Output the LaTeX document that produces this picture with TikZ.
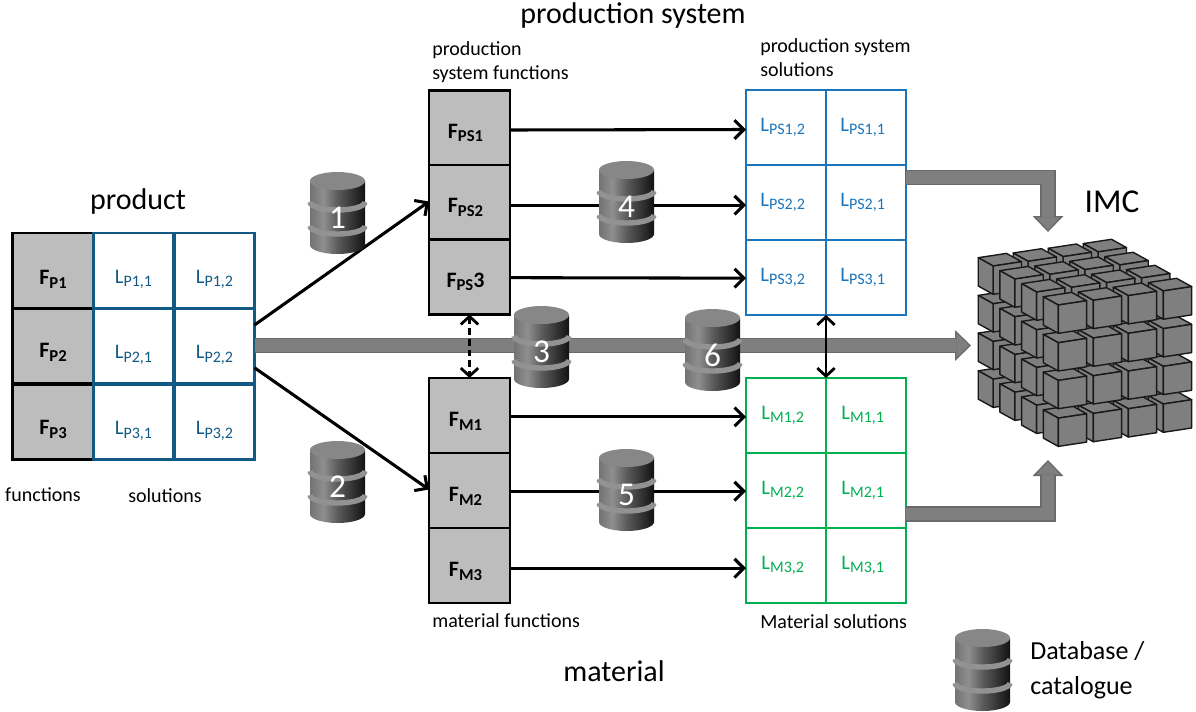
\documentclass[tikz,border=0pt]{standalone}
\usepackage{fontspec}
\setmainfont{Carlito}
\usetikzlibrary{arrows.meta,calc}
\definecolor{prodblue}{HTML}{125A85}
\definecolor{psblue}{HTML}{1B75BC}
\definecolor{matgreen}{HTML}{00B050}
\definecolor{cellgray}{HTML}{BDBDBD}
\definecolor{bandgray}{HTML}{929292}
\definecolor{flowgray}{HTML}{7F7F7F}
\definecolor{flowedge}{HTML}{6A6A6A}
\pgfdeclarehorizontalshading{dbshade}{100bp}{rgb(0bp)=(.45,.45,.45);rgb(25bp)=(.45,.45,.45);rgb(37bp)=(.56,.56,.56);rgb(50bp)=(.36,.36,.36);rgb(75bp)=(.07,.07,.07);rgb(100bp)=(.07,.07,.07)}
\newcommand{\fsub}[1]{{\fontsize{12.5}{12}\selectfont\raisebox{-2.8pt}{#1}}}
\newcommand{\lsub}[1]{{\fontsize{12}{12}\selectfont\raisebox{-2.8pt}{#1}}}
\newcommand{\dbcyl}[4]{%
\begin{scope}[shift={(#2,#3)}]
\path[shading=dbshade] (-27.5,9) -- (-27.5,73) arc[start angle=180,end angle=360,x radius=20.625pt,y radius=6.75pt] -- (27.5,9) -- cycle;
\fill[bandgray!110!white] (0,9) ellipse [x radius=20.625pt,y radius=6.75pt];
\draw[bandgray,line width=4pt] (-27.5,30) arc[start angle=180,end angle=360,x radius=20.625pt,y radius=6pt];
\draw[bandgray,line width=4pt] (-27.5,54) arc[start angle=180,end angle=360,x radius=20.625pt,y radius=6pt];
\node[dbnum] (#1) at (0,46) {#4};
\end{scope}}
\tikzset{
  x=0.75pt,y=-0.75pt,
  fcell/.style={draw=black,fill=cellgray,line width=1.9pt,minimum width=60.75pt,minimum height=56.25pt,inner sep=0pt,outer sep=0pt,text height=#1,text depth=0pt,font=\fontsize{16.5}{18}\selectfont\bfseries},
  lcell/.style={draw=#1,fill=white,text=#1,line width=1.9pt,minimum width=60pt,minimum height=56.25pt,inner sep=0pt,outer sep=0pt,font=\fontsize{15.5}{18}\selectfont},
  lowtext/.style={text height=19pt,text depth=0pt},
  dbnum/.style={text=white,inner sep=0pt,font=\fontsize{25}{28}\selectfont},
  label/.style={inner sep=0pt,anchor=west,align=left,font=\fontsize{15}{18}\selectfont},
  title/.style={inner sep=0pt,font=\fontsize{22.5}{24}\selectfont},
  flow/.style={draw=black,line width=2.3pt,-{Straight Barb[length=7pt,width=14pt,line width=2.3pt]}},
  twoway/.style={draw=black,line width=2.1pt,{Straight Barb[length=6pt,width=13pt,line width=2.1pt]}-{Straight Barb[length=6pt,width=13pt,line width=2.1pt]}},
  bigflow/.style={draw=flowedge,line width=11.5pt,-{Triangle[length=12pt,width=23pt,fill=flowgray,line width=1pt]}},
  bigcore/.style={draw=flowgray,line width=9.5pt,shorten >=11pt},
  cubeface/.style={fill=flowgray,draw=black!90,line width=1.05pt,line join=round},
}
\begin{document}
\begin{tikzpicture}
\useasboundingbox (0,0) rectangle (1196,711);
% product
\node[fcell=21.5pt] (FP1) at (53,270.5) {F\fsub{P1}};
\node[fcell=17.5pt] (FP2) at (53,346) {F\fsub{P2}};
\node[fcell=18.5pt] (FP3) at (53,422) {F\fsub{P3}};
\node[lcell=prodblue,lowtext] (LP11) at (133.5,270.5) {L\lsub{P1,1}};
\node[lcell=prodblue,lowtext] (LP12) at (214.5,270.5) {L\lsub{P1,2}};
\node[lcell=prodblue,lowtext] (LP21) at (133.5,346) {L\lsub{P2,1}};
\node[lcell=prodblue,lowtext] (LP22) at (214.5,346) {L\lsub{P2,2}};
\node[lcell=prodblue,lowtext] (LP31) at (133.5,422) {L\lsub{P3,1}};
\node[lcell=prodblue,lowtext] (LP32) at (214.5,422) {L\lsub{P3,2}};
% production system functions
\node[fcell=15pt] (FPS1) at (469.5,128) {F\fsub{PS1}\kern6pt};
\node[fcell=15pt] (FPS2) at (469.5,202.5) {F\fsub{PS2}\kern6pt};
\node[fcell=15pt] (FPS3) at (469.5,277) {F\fsub{PS}3\kern6pt};
% material functions
\node[fcell=17pt] (FM1) at (469.5,415.5) {F\fsub{M1}\kern6pt};
\node[fcell=17pt] (FM2) at (469.5,490.5) {F\fsub{M2}\kern6pt};
\node[fcell=17pt] (FM3) at (469.5,565.5) {F\fsub{M3}\kern6pt};
% production system solutions
\node[lcell=psblue] (LPS12) at (786,127.5) {L\lsub{PS1,2}\kern5pt};
\node[lcell=psblue] (LPS11) at (866,127.5) {L\lsub{PS1,1}\kern5pt};
\node[lcell=psblue] (LPS22) at (786,202.5) {L\lsub{PS2,2}\kern5pt};
\node[lcell=psblue] (LPS21) at (866,202.5) {L\lsub{PS2,1}\kern5pt};
\node[lcell=psblue] (LPS32) at (786,277.5) {L\lsub{PS3,2}\kern5pt};
\node[lcell=psblue] (LPS31) at (866,277.5) {L\lsub{PS3,1}\kern5pt};
% material solutions
\node[lcell=matgreen] (LM12) at (786,415.5) {L\lsub{M1,2}\kern5pt};
\node[lcell=matgreen] (LM11) at (866,415.5) {L\lsub{M1,1}\kern5pt};
\node[lcell=matgreen] (LM22) at (786,490.5) {L\lsub{M2,2}\kern5pt};
\node[lcell=matgreen] (LM21) at (866,490.5) {L\lsub{M2,1}\kern5pt};
\node[lcell=matgreen] (LM32) at (786,565.5) {L\lsub{M3,2}\kern5pt};
\node[lcell=matgreen] (LM31) at (866,565.5) {L\lsub{M3,1}\kern5pt};
% IMC cube
\foreach \i in {3,2,1,0}{\foreach \j in {3,2,1,0}{\foreach \k in {3,2,1,0}{
  \pgfmathsetmacro\cx{1058.3-21.7*\i+35*\j}
  \pgfmathsetmacro\cy{305-13*\i-4.7*\j+37.7*\k}
  \begin{scope}[shift={(\cx,\cy)}]
  \path[cubeface] (0,0) -- (-15,-8.3) -- (13.3,-12.6) -- (28.3,-4.3) -- cycle;
  \path[cubeface] (0,0) -- (-15,-8.3) -- (-15,20) -- (0,28.3) -- cycle;
  \path[cubeface] (0,0) -- (28.3,-4.3) -- (28.3,24) -- (0,28.3) -- cycle;
  \end{scope}
}}}
\coordinate (imctop) at (1048,232);
\coordinate (imcbottom) at (1048,460);
\coordinate (imcleft) at (971,345.5);
% grey flows
\draw[bigflow] (LP22.east |- imcleft) -- (imcleft);
\draw[bigcore] (LP22.east |- imcleft) -- (imcleft);
\draw[bigflow] (LPS21.east |- 0,177.5) -| (imctop);
\draw[bigcore] (LPS21.east |- 0,177.5) -| (imctop);
\draw[bigflow] (LM21.east |- 0,514) -| (imcbottom);
\draw[bigcore] (LM21.east |- 0,514) -| (imcbottom);
% black flows
\draw[flow] ([yshift=-1.5pt]FPS1.east) -- ([yshift=-1.5pt]LPS12.west);
\draw[flow] ([yshift=-2pt]FPS2.east) -- ([yshift=-2pt]LPS22.west);
\draw[flow] ([yshift=-0.5pt]FPS3.east) -- ([yshift=-0.5pt]LPS32.west);
\draw[flow] ([yshift=-1pt]FM1.east) -- ([yshift=-1pt]LM12.west);
\draw[flow] ([yshift=-0.5pt]FM2.east) -- ([yshift=-0.5pt]LM22.west);
\draw[flow] ([yshift=-2pt]FM3.east) -- ([yshift=-2pt]LM32.west);
\draw[flow] ($(LP22.north east)!0.22!(LP22.south east)$) -- ($(FPS2.west)+(0,-1)$);
\draw[flow] ($(LP22.north east)!0.79!(LP22.south east)$) -- ($(FM2.west)+(0,-1)$);
\draw[twoway,dash pattern=on 5pt off 3pt] (FPS3.south) -- (FM1.north);
\draw[twoway] (LPS32.south east) -- (LM12.north east);
% databases
\dbcyl{db1}{337.5}{172}{1}
\dbcyl{db2}{337.5}{441}{2}
\dbcyl{db3}{541.5}{306}{3}
\dbcyl{db4}{626.5}{161}{4}
\dbcyl{db5}{626.5}{449}{5}
\dbcyl{db6}{712.5}{309}{6}
\dbcyl{dbl}{982.5}{629}{}
% texts
\node[title] (tps) at (633,15) {production system};
\node[label] (tpsf) at (432,62) {production\\system functions};
\node[label] (tpss) at (760,58) {production system\\solutions};
\node[title] (tprod) at (138,201.5) {product};
\node[inner sep=0pt,font=\fontsize{25}{28}\selectfont] (timc) at (1112,202) {IMC};
\node[inner sep=0pt,font=\fontsize{15}{18}\selectfont] (tfun) at (43,495) {functions};
\node[inner sep=0pt,font=\fontsize{15}{18}\selectfont] (tsol) at (165,496) {solutions};
\node[label] (tmf) at (432,621) {material functions};
\node[label] (tms) at (760,622) {Material solutions};
\node[title] (tmat) at (614,671) {material};
\node[label,font=\fontsize{19.5}{26}\selectfont] (tdb) at (1030,670) {Database /\\catalogue};
\end{tikzpicture}
\end{document}
